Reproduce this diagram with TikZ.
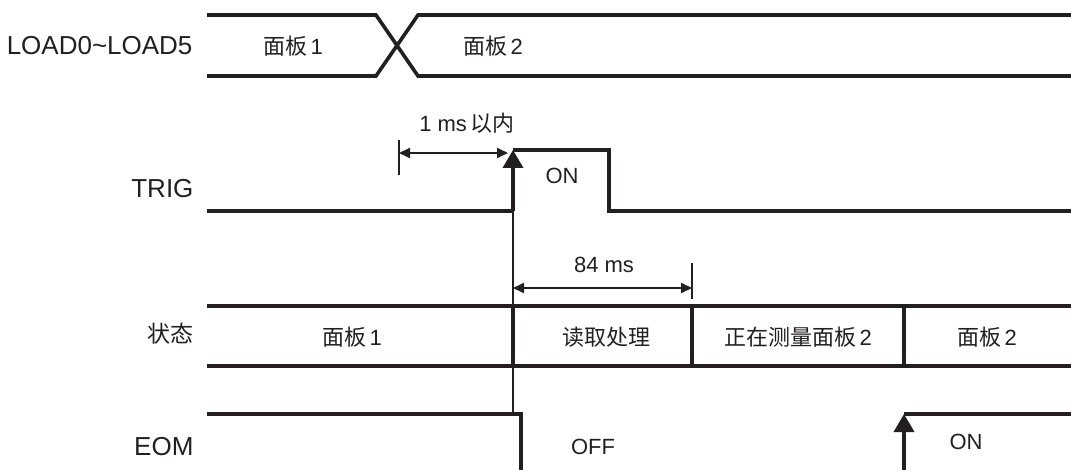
\documentclass[tikz,border=0pt]{standalone}
\usepackage{fontspec}
\setmainfont{Liberation Sans}
\newfontfamily\cjk{Noto Sans CJK SC}
\usetikzlibrary{arrows.meta}
\definecolor{ink}{RGB}{35,31,32}

\begin{document}
\begin{tikzpicture}[x=1pt,y=-1pt,
  sig/.style={line width=3.6pt,draw=ink},
  guide/.style={line width=1.8pt,draw=ink},
  edge/.style={-{Triangle[length=18pt,width=20pt]}},
  dim/.style={guide,{Triangle[length=11pt,width=10pt]}-{Triangle[length=11pt,width=10pt]}},
  lbl/.style={font=\fontsize{26}{31}\selectfont,text=ink,anchor=east},
  txt/.style={font=\fontsize{22}{26}\selectfont,text=ink}]
\useasboundingbox (0,0) rectangle (1071,470);

\node[lbl] (load) at (196,46) {LOAD0\textasciitilde LOAD5};
\node[lbl] (trig) at (197,189) {TRIG};
\node[lbl,font=\fontsize{23}{28}\selectfont\cjk] (state) at (197,334) {状态};
\node[lbl] (eom) at (197,447) {EOM};

\coordinate (ld0) at (207,15);
\coordinate (ld1) at (207,76);
\coordinate (ldx) at (397,45.5);
\draw[sig] (ld0) -- (376,15) -- (ldx) -- (418,76) -- (1071,76);
\draw[sig] (ld1) -- (376,76) -- (ldx) -- (418,15) -- (1071,15);
\node[txt] (p1) at (293,46) {{\cjk 面板}\,1};
\node[txt] (p2) at (493,46) {{\cjk 面板}\,2};

\coordinate (trlo) at (513,211);
\coordinate (trhi) at (513,150);
\draw[sig] (207,211) -- (trlo);
\draw[sig,edge] (trlo) -- (trhi);
\draw[sig] (trhi) -- (609,150) -- (609,211) -- (1071,211);
\node[txt] (on1) at (562,176) {ON};
\draw[guide] (trlo) -- (513,414);

\coordinate (t1) at (399,140);
\coordinate (t1b) at (399,175);
\draw[guide] (t1) -- (t1b);
\draw[dim] (399,153) -- (508,153);
\node[txt] (ms1) at (467,123) {1 ms\,{\cjk 以内}};

\coordinate (t2) at (692,263);
\coordinate (t2b) at (692,299);
\draw[guide] (t2) -- (t2b);
\draw[dim] (513,288) -- (692,288);
\node[txt] (ms84) at (604,265) {84 ms};

\draw[sig] (207,306) -- (1071,306);
\draw[sig] (207,366) -- (1071,366);
\foreach \x in {513,692,904}
  \draw[sig] (\x,306) -- (\x,366);
\node[txt] (s1) at (352,337) {{\cjk 面板}\,1};
\node[txt] (s2) at (606,337) {\cjk 读取处理};
\node[txt] (s3) at (798,337) {{\cjk 正在测量面板}\,2};
\node[txt] (s4) at (987,337) {{\cjk 面板}\,2};

\coordinate (eohi) at (521,414);
\draw[sig] (207,414) -- (eohi) -- (521,474);
\node[txt] (off) at (593,447) {OFF};
\coordinate (eup) at (904,414);
\draw[sig,edge] (904,474) -- (eup);
\draw[sig] (eup) -- (1071,414);
\node[txt] (on2) at (966,442) {ON};
\end{tikzpicture}
\end{document}
